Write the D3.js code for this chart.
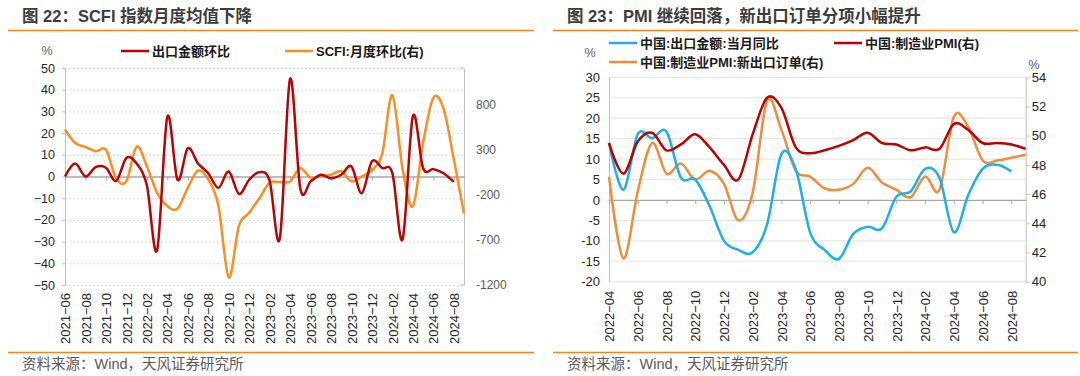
<!DOCTYPE html>
<html><head><meta charset="utf-8">
<script src="https://cdn.jsdelivr.net/npm/d3@7"></script>
<style>
body{margin:0;background:#fff}
svg{display:block}
text{font-family:"Liberation Sans","Noto Sans CJK SC",Arial,sans-serif}
</style>
</head><body>
<svg id="c" width="1080" height="376"></svg>
<script>
// ---------- Left chart data ----------
const leftMonths = ["2021-06","2021-07","2021-08","2021-09","2021-10","2021-11","2021-12","2022-01","2022-02","2022-03","2022-04","2022-05","2022-06","2022-07","2022-08","2022-09","2022-10","2022-11","2022-12","2023-01","2023-02","2023-03","2023-04","2023-05","2023-06","2023-07","2023-08","2023-09","2023-10","2023-11","2023-12","2024-01","2024-02","2024-03","2024-04","2024-05","2024-06","2024-07","2024-08","2024-09"];
const leftTickLabels = ["2021-06","2021-08","2021-10","2021-12","2022-02","2022-04","2022-06","2022-08","2022-10","2022-12","2023-02","2023-04","2023-06","2023-08","2023-10","2023-12","2024-02","2024-04","2024-06","2024-08"];
const exportMoM = [0,6,0,4.3,4,-2,8.5,6,-4,-34,27.5,-1.5,13,6,1.5,-5.2,2.3,-8,-1.5,2,-2,-28.5,45,-5.5,-2.3,0.8,-0.8,0.8,4.6,-7.7,7,3.9,1.5,-29,27.7,3.9,3.4,1.5,-2.5,null];
const scfiMoM = [520,370,327,279,297,-20,-50,330,113,-180,-327,-355,-125,65,-33,-327,-1115,-547,-400,-240,-70,-60,-55,95,-15,5,20,60,-55,0,70,250,900,80,-330,370,870,750,190,-410];
const leftYTicks = [-50,-40,-30,-20,-10,0,10,20,30,40,50];
const leftY2Ticks = [-1200,-700,-200,300,800];

// ---------- Right chart data ----------
const rightMonths = ["2022-04","2022-05","2022-06","2022-07","2022-08","2022-09","2022-10","2022-11","2022-12","2023-01","2023-02","2023-03","2023-04","2023-05","2023-06","2023-07","2023-08","2023-09","2023-10","2023-11","2023-12","2024-01","2024-02","2024-03","2024-04","2024-05","2024-06","2024-07","2024-08","2024-09"];
const rightTickLabels = ["2022-04","2022-06","2022-08","2022-10","2022-12","2023-02","2023-04","2023-06","2023-08","2023-10","2023-12","2024-02","2024-04","2024-06","2024-08"];
const exportYoY = [14,2.5,16.1,15.1,16.7,5.5,5,-1.5,-10,-12.2,-12.8,-6,11.2,7.5,-8,-12.2,-14.4,-8.3,-6.6,-6.9,0.8,2.1,7.6,5.4,-7.9,1.2,7.6,8.6,7.0,null];
const pmi = [49.5,47.4,49.6,50.2,49.0,49.4,50.1,49.2,48.0,47.0,50.1,52.6,51.9,49.2,48.8,49.0,49.3,49.7,50.2,49.5,49.4,49.0,49.2,49.1,50.8,50.4,49.5,49.5,49.4,49.1];
const pmiNewExport = [47.2,41.6,46.2,49.5,47.4,48.1,47.0,47.6,46.7,44.2,46.1,52.4,50.4,47.6,47.2,46.4,46.3,46.7,47.8,46.8,46.3,45.8,47.2,46.3,51.3,50.6,48.3,48.3,48.5,48.7];
const rightYTicks = [-20,-15,-10,-5,0,5,10,15,20,25,30];
const rightY2Ticks = [40,42,44,46,48,50,52,54];

const C = {
  red: "#C00000", orangeL: "#FF8C1F", blue: "#1AB0E8", orangeR: "#F08C3C",
  accent: "#F0851E", axis: "#BFBFBF", zero: "#A6A6A6", grid: "#D9D9D9", gridR: "#E6E6E6",
  title: "#3C3C3C", label: "#262626", label2: "#595959", foot: "#595959"
};

const svg = d3.select("#c");
const curve = d3.curveCardinal.tension(0);
const latin = '"Liberation Sans",Arial,sans-serif';

function header(x0, x1, title) {
  svg.append("text").attr("x", x0 + 14).attr("y", 22).attr("font-size", 16.5)
    .attr("font-weight", "bold").attr("fill", C.title).text(title);
  svg.append("line").attr("x1", x0).attr("x2", x1).attr("y1", 30.5).attr("y2", 30.5)
    .attr("stroke", C.accent).attr("stroke-width", 1.5);
  svg.append("line").attr("x1", x0).attr("x2", x1).attr("y1", 352.5).attr("y2", 352.5)
    .attr("stroke", C.accent).attr("stroke-width", 1.5);
  svg.append("text").attr("x", x0 + 14).attr("y", 369).attr("font-size", 14.5)
    .attr("fill", C.foot).text("资料来源：Wind，天风证券研究所");
}

function legendItem(x, y, color, label) {
  svg.append("line").attr("x1", x).attr("x2", x + 28).attr("y1", y).attr("y2", y)
    .attr("stroke", color).attr("stroke-width", 2.5);
  svg.append("text").attr("x", x + 31).attr("y", y).attr("dy", "0.36em")
    .attr("font-size", 13).attr("font-weight", "bold").attr("fill", "#1a1a1a").text(label);
}

function fmtDate(d) { return d.replace("-", "\u2212"); }

// ================= LEFT CHART =================
header(8, 534, "图 22：SCFI 指数月度均值下降");
{
  const x = d3.scalePoint().domain(leftMonths).range([65, 464]);
  const y = d3.scaleLinear().domain([-50, 50]).range([285, 68]);
  const y2 = d3.scaleLinear().domain([-1200, 1200]).range([285, 68]);

  svg.append("g").selectAll("line").data(leftYTicks.filter(v => v !== 0)).join("line")
    .attr("x1", 65).attr("x2", 464).attr("y1", d => y(d) + 0.5).attr("y2", d => y(d) + 0.5)
    .attr("stroke", C.grid).attr("stroke-width", 1).attr("stroke-dasharray", "2,2");

  const gl = svg.append("g").attr("transform", "translate(65,0)")
    .call(d3.axisLeft(y).tickValues(leftYTicks).tickSize(3).tickSizeOuter(0)
      .tickFormat(d => String(d).replace("-", "\u2212")));
  gl.select(".domain").attr("stroke", C.axis);
  gl.selectAll(".tick line").attr("stroke", C.axis);
  gl.selectAll(".tick text").attr("font-size", 12.5).attr("fill", C.label).attr("x", -10)
    .style("font-family", latin);

  const gr = svg.append("g").attr("transform", "translate(464,0)")
    .call(d3.axisRight(y2).tickValues(leftY2Ticks).tickSize(0).tickSizeOuter(0)
      .tickFormat(d => String(d)));
  gr.select(".domain").attr("stroke", C.axis);
  gr.selectAll(".tick text").attr("font-size", 12).attr("fill", C.label2).attr("x", 12)
    .style("font-family", latin);
  svg.append("g").selectAll("line").data([-1200, 1200]).join("line")
    .attr("x1", 460).attr("x2", 464).attr("y1", d => y2(d)).attr("y2", d => y2(d))
    .attr("stroke", C.axis);

  const gz = svg.append("g").attr("transform", `translate(0,${y(0)})`)
    .call(d3.axisBottom(x).tickValues(leftTickLabels).tickSize(4).tickSizeOuter(0).tickFormat(""));
  gz.select(".domain").attr("stroke", C.zero).attr("stroke-width", 1.3);
  gz.selectAll(".tick line").attr("stroke", C.zero);

  const gx = svg.append("g").attr("transform", "translate(0,285)")
    .call(d3.axisBottom(x).tickValues(leftTickLabels).tickSize(0).tickFormat(fmtDate));
  gx.select(".domain").remove();
  gx.selectAll(".tick text").attr("transform", "rotate(-90)").attr("text-anchor", "end")
    .attr("x", -8).attr("y", 0).attr("dy", "0.36em").attr("font-size", 13).attr("fill", C.label)
    .style("font-family", latin);

  const pts = (vals) => vals.map((v, i) => [leftMonths[i], v]).filter(d => d[1] !== null);
  svg.append("path").datum(pts(scfiMoM))
    .attr("d", d3.line().x(d => x(d[0])).y(d => y2(d[1])).curve(curve))
    .attr("fill", "none").attr("stroke", C.orangeL).attr("stroke-width", 2.5);
  svg.append("path").datum(pts(exportMoM))
    .attr("d", d3.line().x(d => x(d[0])).y(d => y(d[1])).curve(curve))
    .attr("fill", "none").attr("stroke", C.red).attr("stroke-width", 2.5);

  svg.append("text").attr("x", 47).attr("y", 55).attr("font-size", 12.5).attr("fill", C.label2)
    .attr("text-anchor", "middle").text("%");
  legendItem(121, 51, C.red, "出口金额环比");
  legendItem(285, 51, C.orangeL, "SCFI:月度环比(右)");
}

// ================= RIGHT CHART =================
header(553, 1078, "图 23：PMI 继续回落，新出口订单分项小幅提升");
{
  const x = d3.scalePoint().domain(rightMonths).range([609, 1025.7]);
  const y = d3.scaleLinear().domain([-20, 30]).range([281.7, 77.3]);
  const y2 = d3.scaleLinear().domain([40, 54]).range([281.7, 77.3]);

  svg.append("g").selectAll("line").data(rightYTicks.filter(v => v !== 0)).join("line")
    .attr("x1", 609).attr("x2", 1025.7).attr("y1", d => y(d)).attr("y2", d => y(d))
    .attr("stroke", C.gridR).attr("stroke-width", 1.2);

  const gl = svg.append("g").attr("transform", "translate(609,0)")
    .call(d3.axisLeft(y).tickValues(rightYTicks).tickSize(0).tickSizeOuter(0)
      .tickFormat(d => String(d)));
  gl.select(".domain").attr("stroke", C.axis);
  gl.selectAll(".tick text").attr("font-size", 13).attr("fill", C.label).attr("x", -9)
    .style("font-family", latin);

  const gr = svg.append("g").attr("transform", "translate(1025.7,0)")
    .call(d3.axisRight(y2).tickValues(rightY2Ticks).tickSize(4).tickSizeOuter(0)
      .tickFormat(d => String(d)));
  gr.select(".domain").attr("stroke", C.axis);
  gr.selectAll(".tick line").attr("stroke", C.axis);
  gr.selectAll(".tick text").attr("font-size", 13).attr("fill", C.label).attr("x", 6)
    .style("font-family", latin);

  const gz = svg.append("g").attr("transform", `translate(0,${y(0)})`)
    .call(d3.axisBottom(x).tickValues(rightTickLabels).tickSize(4).tickSizeOuter(0).tickFormat(""));
  gz.select(".domain").attr("stroke", C.zero).attr("stroke-width", 1.3);
  gz.selectAll(".tick line").attr("stroke", C.zero);

  const gx = svg.append("g").attr("transform", "translate(0,281.7)")
    .call(d3.axisBottom(x).tickValues(rightTickLabels).tickSize(0).tickFormat(fmtDate));
  gx.select(".domain").remove();
  gx.selectAll(".tick text").attr("transform", "rotate(-90)").attr("text-anchor", "end")
    .attr("x", -9).attr("y", 0).attr("dy", "0.36em").attr("font-size", 13).attr("fill", C.label)
    .style("font-family", latin);

  const pts = (vals) => vals.map((v, i) => [rightMonths[i], v]).filter(d => d[1] !== null);
  svg.append("path").datum(pts(pmiNewExport))
    .attr("d", d3.line().x(d => x(d[0])).y(d => y2(d[1])).curve(curve))
    .attr("fill", "none").attr("stroke", C.orangeR).attr("stroke-width", 2.5);
  svg.append("path").datum(pts(exportYoY))
    .attr("d", d3.line().x(d => x(d[0])).y(d => y(d[1])).curve(curve))
    .attr("fill", "none").attr("stroke", C.blue).attr("stroke-width", 2.5);
  svg.append("path").datum(pts(pmi))
    .attr("d", d3.line().x(d => x(d[0])).y(d => y2(d[1])).curve(curve))
    .attr("fill", "none").attr("stroke", C.red).attr("stroke-width", 2.5);

  svg.append("text").attr("x", 590).attr("y", 57).attr("font-size", 12.5).attr("fill", C.label2)
    .attr("text-anchor", "middle").text("%");
  svg.append("text").attr("x", 1034).attr("y", 69).attr("font-size", 12.5).attr("fill", C.label2)
    .attr("text-anchor", "middle").text("%");
  legendItem(609, 43, C.blue, "中国:出口金额:当月同比");
  legendItem(834, 43, C.red, "中国:制造业PMI(右)");
  legendItem(609, 62, C.orangeR, "中国:制造业PMI:新出口订单(右)");
}
</script>
</body></html>
